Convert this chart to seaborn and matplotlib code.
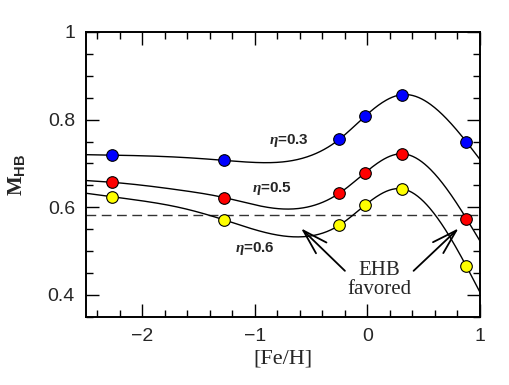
import numpy as np
import pandas as pd
import matplotlib
matplotlib.use("Agg")
import matplotlib.pyplot as plt
import seaborn as sns

# [Fe/H] of the model points
feh = [-2.27, -1.27, -0.25, -0.02, 0.31, 0.88]

# HB mass at each point, one list per mass-loss efficiency
mhb_eta03 = [0.719, 0.707, 0.755, 0.808, 0.857, 0.749]
mhb_eta05 = [0.657, 0.622, 0.632, 0.679, 0.722, 0.574]
mhb_eta06 = [0.624, 0.571, 0.559, 0.605, 0.642, 0.465]

# extra points (edges and dips)
curve_x_eta03 = [-2.5, -1.66, -0.97, 1.0]
curve_y_eta03 = [0.720, 0.714, 0.702, 0.709]
curve_x_eta05 = [-2.5, -1.66, -0.80, 1.0]
curve_y_eta05 = [0.661, 0.639, 0.597, 0.523]
curve_x_eta06 = [-2.5, -1.66, -0.56, 1.0]
curve_y_eta06 = [0.632, 0.599, 0.533, 0.406]

eta_colors = ["#0000ff", "#ff0000", "#ffff00"]
ehb_limit = 0.582


def natural_spline(xk, yk, xs):
    xk = np.asarray(xk, float)
    yk = np.asarray(yk, float)
    n = len(xk)
    h = np.diff(xk)
    A = np.zeros((n, n))
    b = np.zeros(n)
    A[0, 0] = A[-1, -1] = 1.0
    for i in range(1, n - 1):
        A[i, i - 1] = h[i - 1]
        A[i, i] = 2 * (h[i - 1] + h[i])
        A[i, i + 1] = h[i]
        b[i] = 6 * ((yk[i + 1] - yk[i]) / h[i] - (yk[i] - yk[i - 1]) / h[i - 1])
    M = np.linalg.solve(A, b)
    idx = np.clip(np.searchsorted(xk, xs) - 1, 0, n - 2)
    x0, x1 = xk[idx], xk[idx + 1]
    hh = x1 - x0
    t0, t1 = x1 - xs, xs - x0
    return (M[idx] * t0**3 / (6 * hh) + M[idx + 1] * t1**3 / (6 * hh)
            + (yk[idx] / hh - M[idx] * hh / 6) * t0
            + (yk[idx + 1] / hh - M[idx + 1] * hh / 6) * t1)


sns.set_theme(style="ticks")
plt.rcParams["font.family"] = ["Liberation Sans", "DejaVu Sans"]
plt.rcParams["mathtext.fontset"] = "custom"
plt.rcParams["mathtext.rm"] = "Liberation Serif:bold"
plt.rcParams["mathtext.sf"] = "Liberation Sans:bold"
plt.rcParams["mathtext.it"] = "Liberation Serif:italic:bold"

fig = plt.figure(figsize=(5.09, 3.85), dpi=100)
ax = fig.add_axes([0.169, 0.177, 0.774, 0.740])

series = [
    (mhb_eta03, curve_x_eta03, curve_y_eta03),
    (mhb_eta05, curve_x_eta05, curve_y_eta05),
    (mhb_eta06, curve_x_eta06, curve_y_eta06),
]

ax.axhline(ehb_limit, color="#333333", lw=1.0, ls=(0, (7, 4)), zorder=1)

xs = np.linspace(-2.5, 1.0, 400)
for (mhb, cx, cy), col in zip(series, eta_colors):
    kx = np.array(list(feh) + list(cx))
    ky = np.array(list(mhb) + list(cy))
    order = np.argsort(kx)
    ys = natural_spline(kx[order], ky[order], xs)
    curve = pd.DataFrame({"x": xs, "y": ys})
    sns.lineplot(data=curve, x="x", y="y", ax=ax, color="black", lw=1.0,
                 sort=False, estimator=None, zorder=2)
    pts = pd.DataFrame({"x": feh, "y": mhb})
    sns.scatterplot(data=pts, x="x", y="y", ax=ax, color=col, s=70,
                    edgecolor="black", linewidth=0.8, zorder=3)

# eta labels
ax.text(-0.70, 0.753, r"$\eta$=0.3", ha="center", va="center",
        fontsize=11, fontweight="bold")
ax.text(-0.85, 0.642, r"$\eta$=0.5", ha="center", va="center",
        fontsize=11, fontweight="bold")
ax.text(-1.00, 0.506, r"$\eta$=0.6", ha="center", va="center",
        fontsize=11, fontweight="bold")

# EHB favoured annotation
arrow = dict(arrowstyle="->,head_length=1.5,head_width=0.45", lw=1.3,
             color="black", shrinkA=0, shrinkB=0)
ax.annotate("", xy=(-0.59, 0.552), xytext=(-0.20, 0.455), arrowprops=arrow)
ax.annotate("", xy=(0.81, 0.552), xytext=(0.41, 0.455), arrowprops=arrow)
ax.text(0.107, 0.456, "EHB", ha="center", va="center", fontsize=15,
        family="Liberation Serif")
ax.text(0.107, 0.413, "favored", ha="center", va="center", fontsize=15,
        family="Liberation Serif")

ax.set_xlim(-2.5, 1.0)
ax.set_ylim(0.35, 1.0)
ax.set_xticks([-2, -1, 0, 1])
ax.set_xticklabels(["\u22122", "\u22121", "0", "1"])
ax.set_xticks(np.arange(-2.4, 1.0, 0.2), minor=True)
ax.set_yticks([0.4, 0.6, 0.8, 1.0])
ax.set_yticklabels(["0.4", "0.6", "0.8", "1"])
ax.set_yticks(np.arange(0.35, 1.0, 0.05), minor=True)
ax.tick_params(which="both", direction="in", top=True, right=True,
               width=1.0, color="black", labelsize=14)
ax.tick_params(which="major", length=9.5, pad=8)
ax.tick_params(which="minor", length=5)
for sp in ax.spines.values():
    sp.set_linewidth(1.4)
    sp.set_color("black")

ax.set_xlabel("[Fe/H]", fontsize=16, family="Liberation Serif")
ax.xaxis.set_label_coords(0.5, -0.115)
ax.set_ylabel(r"$\mathrm{M}_{\mathsf{HB}}$", fontsize=15)
ax.yaxis.set_label_coords(-0.15, 0.5)

fig.savefig("out.png", dpi=100)
